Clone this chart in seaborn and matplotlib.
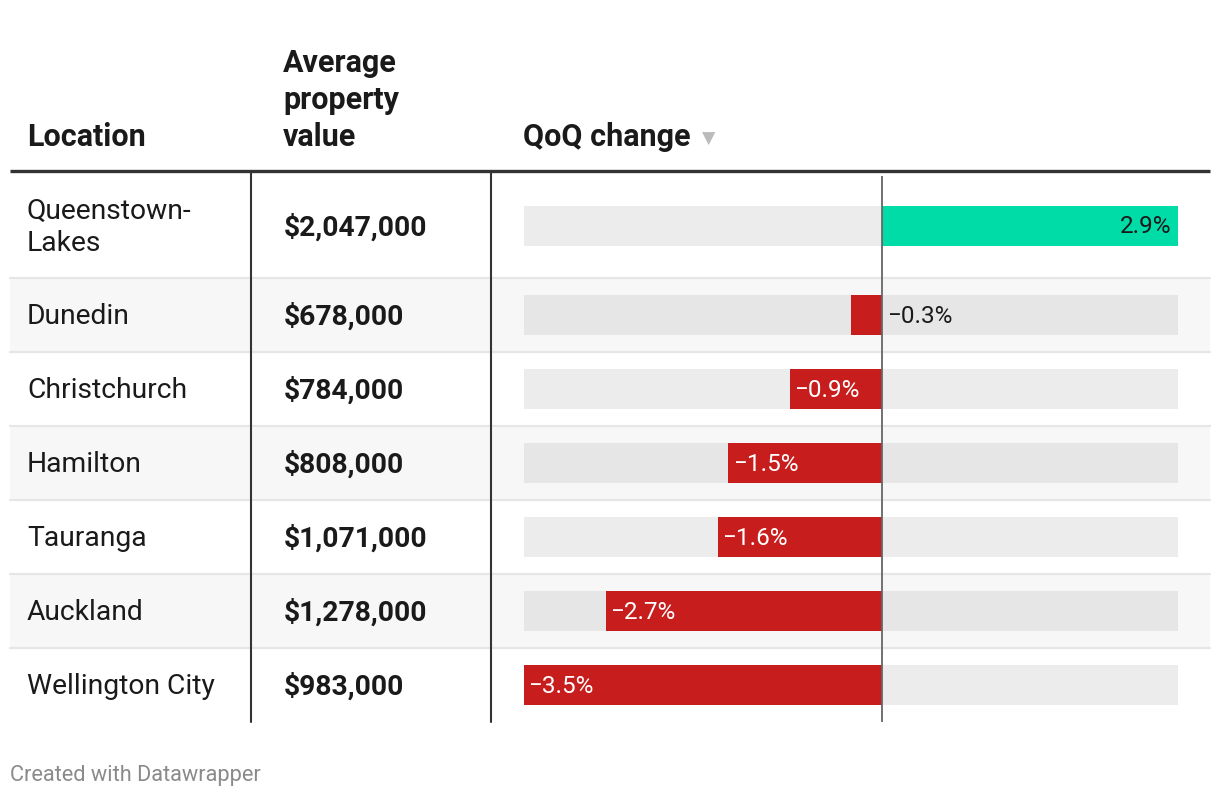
import numpy as np
import matplotlib
matplotlib.use("Agg")
import matplotlib.pyplot as plt
import seaborn as sns
import pandas as pd

sns.set_theme(style="white")
plt.rcParams['font.family'] = ['Roboto', 'DejaVu Sans']

# data
locations = ["Queenstown-\nLakes", "Dunedin", "Christchurch", "Hamilton",
             "Tauranga", "Auckland", "Wellington City"]
avg_values = ["$2,047,000", "$678,000", "$784,000", "$808,000",
              "$1,071,000", "$1,278,000", "$983,000"]
qoq_change = [2.9, -0.3, -0.9, -1.5, -1.6, -2.7, -3.5]
headers = ["Location", "Average\nproperty\nvalue", "QoQ change"]
footer = "Created with Datawrapper"

# layout (pixels)
W, H = 1220, 798
row_heights = [105, 74, 74, 74, 74, 74, 74]
table_top = 173
col_x = [27, 283, 523]
bar_left, bar_right = 524, 1178
bar_h = 40
green = "#00dca8"
red = "#c71e1d"
body_fs = 20.3
head_fs = 22
lab_fs = 17.5

fig = plt.figure(figsize=(W / 100, H / 100), dpi=100)
ax = fig.add_axes([0, 0, 1, 1])
ax.set_xlim(0, W)
ax.set_ylim(H, 0)
ax.axis("off")

# header
for x, h in zip(col_x, headers):
    ax.text(x, 146, h, fontsize=head_fs, fontweight="bold", color="#1a1a1a",
            va="baseline", ha="left", linespacing=1.3)
ax.text(702, 144, "▼", fontsize=12.5, color="#bbbbbb", va="baseline", ha="left",
        family=["DejaVu Sans"])
ax.plot([10, 1210], [171, 171], color="#333333", lw=2.4, solid_capstyle="butt")

tops = table_top + np.concatenate([[0], np.cumsum(row_heights)[:-1]])
bottom = table_top + sum(row_heights)
df = pd.DataFrame({"loc": locations, "value": avg_values, "qoq": qoq_change,
                   "top": tops, "h": row_heights})

for i, r in df.iterrows():
    shaded = i % 2 == 1
    if shaded:
        ax.add_patch(plt.Rectangle((10, r.top), 1200, r.h, color="#f7f7f7", lw=0, zorder=0))
    if i > 0:
        ax.plot([10, 1210], [r.top, r.top], color="#e6e6e6", lw=1.6, zorder=1)
    cy = r.top + r.h / 2
    ax.text(col_x[0], cy + 2, r["loc"], fontsize=body_fs, color="#1a1a1a", va="center",
            ha="left", linespacing=1.2)
    ax.text(col_x[1] + 1, cy + 2, r.value, fontsize=body_fs, fontweight="bold",
            color="#1a1a1a", va="center", ha="left")

    # bar axes for this row
    bax = fig.add_axes([bar_left / W, 1 - (cy + bar_h / 2) / H,
                        (bar_right - bar_left) / W, bar_h / H])
    sns.barplot(x=[r.qoq], y=[r["loc"]], orient="h", ax=bax, width=1.0,
                color=green if r.qoq > 0 else red, saturation=1, linewidth=0)
    bax.set_facecolor("#e6e6e6" if shaded else "#ececec")
    bax.set_xlim(min(qoq_change), max(qoq_change))
    bax.set_ylim(0.5, -0.5)
    bax.set_xticks([])
    bax.set_yticks([])
    bax.set_xlabel("")
    bax.set_ylabel("")
    for s in bax.spines.values():
        s.set_visible(False)
    lab = f"{r.qoq:.1f}%".replace("-", "\u2212")
    if r.qoq > 0:
        bax.annotate(lab, (r.qoq, 0), xytext=(-5, -1), textcoords="offset points",
                     ha="right", va="center", fontsize=lab_fs, color="#1a1a1a")
    elif abs(r.qoq) < 0.5:
        bax.annotate(lab, (0, 0), xytext=(4, -1), textcoords="offset points",
                     ha="left", va="center", fontsize=lab_fs, color="#1a1a1a")
    else:
        bax.annotate(lab, (r.qoq, 0), xytext=(3, -1), textcoords="offset points",
                     ha="left", va="center", fontsize=lab_fs, color="white")

# column dividers
for x in [251, 491]:
    ax.plot([x, x], [table_top, bottom], color="#333333", lw=1.5, zorder=3)

# zero line
zax = fig.add_axes([bar_left / W, 1 - bottom / H, (bar_right - bar_left) / W,
                    (bottom - 176) / H])
zax.set_xlim(min(qoq_change), max(qoq_change))
zax.axvline(0, color="#666666", lw=1.3)
zax.axis("off")

ax.text(10, 775, footer, fontsize=15.7, color="#8a8a8a", va="center", ha="left")

fig.savefig("out.png", dpi=100)
